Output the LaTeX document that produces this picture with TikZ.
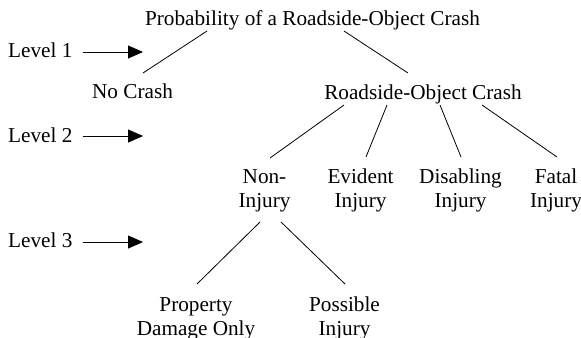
\documentclass[tikz,border=0pt]{standalone}
\usepackage{fontspec}
\setmainfont{Liberation Serif}
\usetikzlibrary{arrows.meta}
\begin{document}
\begin{tikzpicture}[x=1bp,y=-1bp,
  lbl/.style={inner sep=0pt, align=center, anchor=base, font=\fontsize{21.3}{24}\selectfont},
  lev/.style={inner sep=0pt, anchor=base west, font=\fontsize{21.3}{24}\selectfont},
  edge/.style={line width=0.8bp, black},
  levarrow/.style={line width=0.8bp, -{Triangle[length=15bp,width=13bp]}}]
\useasboundingbox (0,0) rectangle (581,337);
\clip (0,0) rectangle (581,337);
% nodes (multi-line nodes: base = baseline of last line)
\node[lbl] (title) at (312.5,25) {Probability of a Roadside-Object Crash};
\node[lbl] (nocrash) at (132.5,98) {No Crash};
\node[lbl] (roc) at (423,99) {Roadside-Object Crash};
\node[lbl] (noninj) at (264.5,207) {Non-\\Injury};
\node[lbl] (evident) at (360.5,207) {Evident\\Injury};
\node[lbl] (disabling) at (460.5,207) {Disabling\\Injury};
\node[lbl] (fatal) at (556,207) {Fatal\\Injury};
\node[lbl] (pdo) at (196,335) {Property\\Damage Only};
\node[lbl] (possible) at (344.5,335) {Possible\\Injury};
\node[lev] (l1) at (8,57) {Level 1};
\node[lev] (l2) at (8,142) {Level 2};
\node[lev] (l3) at (8,247) {Level 3};
\coordinate (a1) at (143,52);
\coordinate (a2) at (143,136);
\coordinate (a3) at (143,242);
% level arrows
\draw[levarrow] ([shift={(10,-5)}]l1.base east) -- (a1);
\draw[levarrow] ([shift={(10,-6)}]l2.base east) -- (a2);
\draw[levarrow] ([shift={(10,-5)}]l3.base east) -- (a3);
% tree edges
\draw[edge] ([shift={(-105.5,6)}]title.base) -- ([shift={(10.5,-25)}]nocrash.base);
\draw[edge] ([shift={(31.5,6)}]title.base) -- ([shift={(-15,-26)}]roc.base);
\draw[edge] ([shift={(-79,6)}]roc.base) -- ([shift={(5.5,-49)}]noninj.base);
\draw[edge] ([shift={(-36,6)}]roc.base) -- ([shift={(5.5,-50)}]evident.base);
\draw[edge] ([shift={(17,6)}]roc.base) -- ([shift={(0.5,-50)}]disabling.base);
\draw[edge] ([shift={(59,6)}]roc.base) -- ([shift={(1,-50)}]fatal.base);
\draw[edge] ([shift={(-4.5,15)}]noninj.base) -- ([shift={(1,-51)}]pdo.base);
\draw[edge] ([shift={(16.5,15)}]noninj.base) -- ([shift={(0.5,-51)}]possible.base);
\end{tikzpicture}
\end{document}
